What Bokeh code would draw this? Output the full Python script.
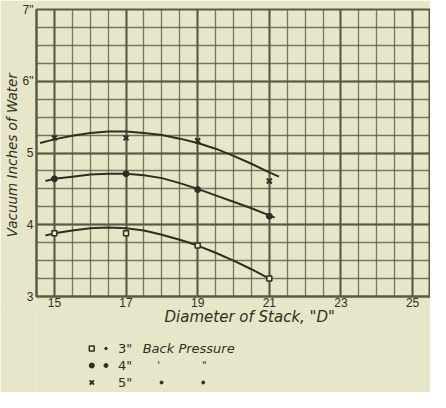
from bokeh.plotting import figure
from bokeh.layouts import column
from bokeh.models import FixedTicker, Range1d
from bokeh.core.properties import value
from bokeh.embed import file_html
from bokeh.resources import INLINE

# ---- data ----
diameters = [15, 17, 19, 21]
vac_3in = [3.88, 3.88, 3.71, 3.25]
vac_4in = [4.64, 4.71, 4.49, 4.12]
vac_5in = [5.21, 5.21, 5.17, 4.61]

# smooth fitted curves as drawn on the sheet
curve3_x = [14.75, 15, 15.5, 16, 16.5, 17, 17.5, 18, 18.5, 19, 19.5, 20, 20.5, 21.0]
curve3_y = [3.85, 3.88, 3.92, 3.95, 3.96, 3.95, 3.92, 3.86, 3.79, 3.71, 3.61, 3.50, 3.38, 3.25]
curve4_x = [14.75, 15, 15.5, 16, 16.5, 17, 17.5, 18, 18.5, 19, 19.5, 20, 20.5, 21, 21.15]
curve4_y = [4.61, 4.64, 4.67, 4.70, 4.71, 4.71, 4.69, 4.65, 4.58, 4.50, 4.41, 4.32, 4.23, 4.13, 4.10]
curve5_x = [14.6, 15, 15.5, 16, 16.5, 17, 17.5, 18, 18.5, 19, 19.5, 20, 20.5, 21, 21.27]
curve5_y = [5.14, 5.19, 5.24, 5.28, 5.30, 5.30, 5.28, 5.25, 5.20, 5.14, 5.06, 4.96, 4.85, 4.73, 4.67]

x_ticks = [15, 17, 19, 21, 23, 25]
x_tick_labels = ["15", "17", "19", "21", "23", "25"]
y_ticks = [3, 4, 5, 6, 7]
y_tick_labels = ["3", "4", "5", '6"', '7"']

x_title = 'Diameter of Stack, "D"'
y_title = "Vacuum  Inches of Water"
legend_markers = ["square", "circle", "x"]
legend_values = ['3"', '4"', '5"']
legend_desc = "Back Pressure"

# ---- styling ----
PAPER = "#e8e6c8"
INK = "#2e2e22"
GRID = "#5a5a44"
XR = (14.5, 25.5)
YR = (3, 7)
W = 430
LEFT = 33

p = figure(width=W, height=310, x_range=XR, y_range=YR,
           output_backend="svg", toolbar_location=None,
           min_border_left=LEFT, min_border_right=0, min_border_top=9,
           min_border_bottom=14)
p.background_fill_color = PAPER
p.border_fill_color = PAPER
p.outline_line_color = GRID
p.outline_line_width = 2

minor_x = [XR[0] + 0.5 * i for i in range(23)]
minor_y = [YR[0] + 0.25 * i for i in range(17)]
p.xaxis.ticker = FixedTicker(ticks=x_ticks, minor_ticks=minor_x)
p.yaxis.ticker = FixedTicker(ticks=y_ticks, minor_ticks=minor_y)
p.xaxis.major_label_overrides = dict(zip(x_ticks, x_tick_labels))
p.yaxis.major_label_overrides = dict(zip(y_ticks, y_tick_labels))

for ax in (p.xaxis, p.yaxis):
    ax.axis_line_color = GRID
    ax.axis_line_width = 2
    ax.major_tick_out = 0
    ax.major_tick_in = 0
    ax.minor_tick_out = 0
    ax.minor_tick_in = 0
    ax.major_label_text_font = "Liberation Sans"
    ax.major_label_text_font_size = "12px"
    ax.major_label_text_color = INK
p.xaxis.major_label_standoff = 1
p.yaxis.major_label_standoff = 3
p.yaxis.axis_label = y_title
p.yaxis.axis_label_standoff = 0
p.yaxis.axis_label_text_font = "DejaVu Sans"
p.yaxis.axis_label_text_font_style = "italic"
p.yaxis.axis_label_text_font_size = "13.5px"
p.yaxis.axis_label_text_color = INK

p.xgrid.grid_line_color = GRID
p.xgrid.grid_line_width = 2
p.xgrid.minor_grid_line_color = GRID
p.xgrid.minor_grid_line_width = 1.3
p.xgrid.minor_grid_line_alpha = 0.8
p.ygrid.grid_line_color = GRID
p.ygrid.grid_line_width = 2
p.ygrid.minor_grid_line_color = GRID
p.ygrid.minor_grid_line_width = 1.3
p.ygrid.minor_grid_line_alpha = 0.8

# curves
for cx, cy in ((curve3_x, curve3_y), (curve4_x, curve4_y), (curve5_x, curve5_y)):
    p.line(cx, cy, line_color=INK, line_width=2)

# points
p.scatter(diameters, vac_3in, marker="square", size=5, fill_color=PAPER,
          line_color=INK, line_width=1.5)
p.scatter(diameters, vac_4in, marker="circle", size=6, fill_color=INK,
          line_color=INK)
p.scatter(diameters, vac_5in, marker="x", size=7, line_color=INK, line_width=2)

# ---- strip below the chart: x title and the key (canvas pixel coordinates) ----
H2 = 83
q = figure(width=W, height=H2, x_range=Range1d(LEFT, W), y_range=Range1d(H2 - 1, -1),
           output_backend="svg", toolbar_location=None,
           x_axis_location=None, y_axis_location=None,
           min_border_left=LEFT, min_border_right=0, min_border_top=0,
           min_border_bottom=0)
q.margin = (-1, 0, 0, 0)
q.background_fill_color = PAPER
q.border_fill_color = PAPER
q.outline_line_color = None
q.grid.visible = False

q.text(x=[162], y=[6.5], text=[x_title], text_font=value("DejaVu Sans"),
       text_font_style="italic", text_font_size="15px", text_align="left",
       text_baseline="middle", text_color=INK)

row_y = [38, 55, 72]
mk_x = [88.7] * 3
q.scatter(mk_x[:1], row_y[:1], marker=legend_markers[0], size=5, fill_color=PAPER,
          line_color=INK, line_width=1.5)
q.scatter(mk_x[1:2], row_y[1:2], marker=legend_markers[1], size=5, fill_color=INK,
          line_color=INK)
q.scatter(mk_x[2:], row_y[2:], marker=legend_markers[2], size=6, line_color=INK,
          line_width=2)
# dot separators in rows 1 and 2, ditto marks in rows 2 and 3
q.scatter([103, 103], row_y[:2], marker="circle", size=[2.5, 4], fill_color=INK,
          line_color=INK)
q.scatter([159, 201], [row_y[2]] * 2, marker="circle", size=3, fill_color=INK,
          line_color=INK)
q.text(x=[115] * 3, y=row_y, text=legend_values, text_font=value("DejaVu Sans"),
       text_font_size="13px", text_align="left", text_baseline="middle",
       text_color=INK)
q.text(x=[140], y=[row_y[0]], text=[legend_desc], text_font=value("DejaVu Sans"),
       text_font_style="italic", text_font_size="13px", text_align="left",
       text_baseline="middle", text_color=INK)
q.text(x=[156, 202], y=[row_y[1]] * 2, text=["'", '"'], text_font=value("DejaVu Sans"),
       text_font_size="10px", text_align="center", text_baseline="middle",
       text_color=INK)

layout = column(p, q, spacing=0)
open("out.html", "w").write(file_html(layout, INLINE))
